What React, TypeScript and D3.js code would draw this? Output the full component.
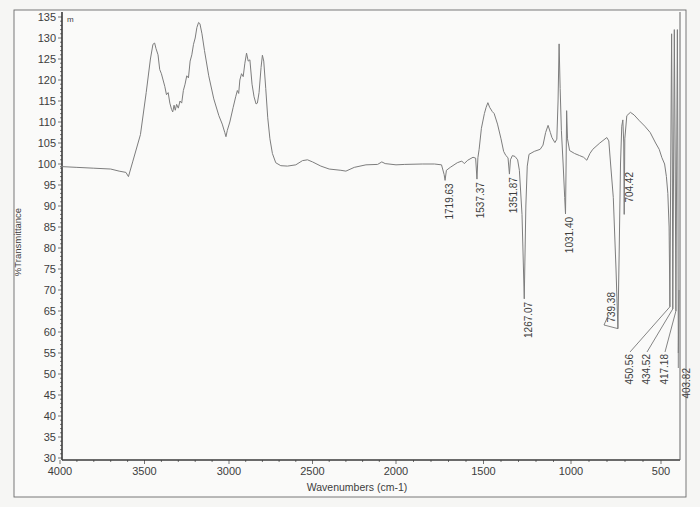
import React from "react";
import * as d3 from "d3";

const wavenumbers = [
  4000, 3900, 3800, 3700, 3650, 3610, 3595, 3570, 3524, 3490, 3465, 3450, 3440, 3432, 3420, 3410, 3400, 3390, 3380, 3370,
  3360, 3350, 3340, 3333, 3325, 3318, 3310, 3300, 3290, 3280, 3270, 3260, 3250, 3240, 3230, 3220, 3210, 3200, 3190, 3180,
  3172, 3160, 3145, 3120, 3090, 3060, 3040, 3025, 3018, 3010, 2995, 2975, 2960, 2950, 2942, 2935, 2925, 2915, 2905, 2895,
  2885, 2875, 2862, 2850, 2838, 2830, 2820, 2808, 2800, 2792, 2780, 2768, 2755, 2740, 2720, 2690, 2650, 2600, 2560, 2530,
  2500, 2450, 2400, 2330, 2300, 2250, 2180, 2110, 2085, 2065, 2000, 1950, 1850, 1780, 1740, 1725, 1719.63, 1712, 1690, 1650,
  1624, 1610, 1590, 1560, 1545, 1537.37, 1532, 1525, 1512, 1495, 1485, 1475, 1465, 1450, 1439, 1420, 1400, 1385, 1372, 1360,
  1351.87, 1346, 1335, 1320, 1305, 1295, 1280, 1267.07, 1258, 1250, 1240, 1210, 1176, 1160, 1145, 1131, 1118, 1109, 1092, 1081,
  1074, 1068, 1062, 1055, 1045, 1036, 1031.4, 1028, 1025, 1020, 1008, 980, 952, 930, 912, 895, 879, 840, 801, 790,
  780, 765, 750, 739.38, 732, 725, 718, 712, 707, 704.42, 701, 690, 670, 650, 620, 590, 560, 530, 510, 495,
  480, 470, 462, 455, 450.56, 446, 441, 437, 434.52, 430, 426, 421, 417.18, 413, 409, 406, 403.82, 400,
];

const transmittance = [
  99.4, 99.2, 99.0, 98.8, 98.3, 98.0, 97.0, 100.5, 107, 117, 125, 128.5, 128.8, 127.5, 126, 122.5, 121.5, 120, 118.5, 116.5,
  117, 114.5, 113, 112.4, 114, 112.8, 114.2, 113.3, 115, 114.5, 117.5, 119, 121, 120.5, 124.5, 126, 128.5, 130, 132.5, 133.7,
  133.4, 131, 127, 121, 115.5, 111.5, 109.5, 107.5, 106.5, 108, 110, 113.5, 116, 117.5, 116.8, 120, 121.5, 120.8, 124, 126.4,
  124.5, 124.8, 119, 116, 114.3, 114.5, 117, 123, 125.9, 124.5, 118, 111, 106, 102.5, 100.3, 99.6, 99.5, 99.8, 100.8, 101,
  100.5, 99.5, 98.8, 98.5, 98.3, 99.2, 99.8, 99.9, 100.5, 100.1, 99.8, 99.9, 100.0, 100, 99.8, 97.5, 96.1, 98.5, 99.2, 100.3,
  100.7, 100.1, 100.9, 101.6, 101.4, 96.4, 101.5, 103.5, 108.5, 112, 113.5, 114.6, 113.5, 112.5, 112, 109.5, 106, 103, 102, 101.5,
  97.6, 101, 102, 101.8, 101, 98.5, 88, 67.9, 90, 99.5, 102.3, 103, 103.5, 104.5, 107.5, 109.2, 107.5, 106.3, 105.1, 105.9,
  115, 128.6, 118, 108, 100, 92, 88.1, 100, 112.7, 106, 103.2, 102.5, 102, 101.6, 100.9, 102.5, 103.5, 105, 106.3, 105.5,
  100, 92, 75, 60.8, 80, 100, 109, 110.5, 105, 88, 106, 111.5, 112.3, 111.7, 110.3, 109, 107.5, 105, 103.5, 101.5,
  100, 97, 93, 85, 66, 100, 131, 100, 65.5, 100, 132, 100, 65, 100, 132, 100, 55, 70,
];

const xTickValues = [4000, 3500, 3000, 2500, 2000, 1500, 1000, 500];
const yTickValues = [30, 35, 40, 45, 50, 55, 60, 65, 70, 75, 80, 85, 90, 95, 100, 105, 110, 115, 120, 125, 130, 135];

const peakWavenumbers = [1719.63, 1537.37, 1351.87, 1267.07, 1031.4, 739.38, 704.42, 450.56, 434.52, 417.18, 403.82];
const peakLabels = ["1719.63", "1537.37", "1351.87", "1267.07", "1031.40", "739.38", "704.42", "450.56", "434.52", "417.18", "403.82"];

const xAxisTitle = "Wavenumbers (cm-1)";
const yAxisTitle = "%Transmittance";

export default function App() {
  const W = 700;
  const H = 507;
  const left = 62;
  const right = 680;
  const top = 12;
  const bottom = 460;

  // photographed paper is slightly non-uniform; use anchor points along the axis
  const x = d3.scaleLinear().domain([4000, 3000, 2000, 1000, 400]).range([60, 229, 396, 571, 679]);
  const y = d3.scaleLinear().domain([30, 135]).range([458, 17]);

  const data = wavenumbers.map((w, i) => ({ w, t: transmittance[i] }));
  const line = d3
    .line<{ w: number; t: number }>()
    .x((d) => x(d.w))
    .y((d) => y(d.t));

  const font = "'Liberation Sans', Arial, sans-serif";
  const axisColor = "#3a3a3a";
  const textColor = "#3d3d3d";

  const yMinor = d3.range(30, 136, 1);
  const xMinor = d3.range(500, 4001, 100);

  const tValue = (w: number) => transmittance[wavenumbers.indexOf(w)];

  // label placement (layout only)
  const labelLayout: Record<string, { lx: number; ly: number; leader?: "diag" | "vert" | "slash" | "none" }> = {
    "739.38": { lx: 611, ly: 292, leader: "slash" },
    "704.42": { lx: 629, ly: 172, leader: "none" },
    "450.56": { lx: 629, ly: 354, leader: "diag" },
    "434.52": { lx: 646, ly: 354, leader: "diag" },
    "417.18": { lx: 664, ly: 354, leader: "diag" },
    "403.82": { lx: 686, ly: 368, leader: "vert" },
  };

  return (
    <svg width={W} height={H} style={{ display: "block", position: "absolute", left: 0, top: 0, background: "#f6f6f4" }}>
      <rect x={0} y={0} width={W} height={H} fill="#f6f6f4" />
      {/* paper frame */}
      <rect x={14} y={10} width={672} height={487} fill="#fafaf9" stroke="#6a6a6a" strokeWidth={0.9} />

      {/* axes box */}
      <line x1={left} y1={top} x2={left} y2={bottom} stroke={axisColor} strokeWidth={1.6} />
      <line x1={left} y1={bottom} x2={right} y2={bottom} stroke={axisColor} strokeWidth={1.6} />
      <line x1={right} y1={top} x2={right} y2={bottom} stroke="#666" strokeWidth={1} />

      {/* y minor ticks */}
      {yMinor.map((v) => (
        <line key={"ym" + v} x1={left - (v % 5 === 0 ? 4 : 2)} x2={left} y1={y(v)} y2={y(v)} stroke={axisColor} strokeWidth={0.7} />
      ))}
      {yTickValues.map((v) => (
        <text key={"yt" + v} x={left - 6} y={y(v)} dy="0.35em" textAnchor="end" fontFamily={font} fontSize={11} fill={textColor}>
          {v}
        </text>
      ))}

      {/* x ticks */}
      {xMinor.map((v) => (
        <line key={"xm" + v} x1={x(v)} x2={x(v)} y1={bottom} y2={bottom + (v % 500 === 0 ? 4 : 2)} stroke={axisColor} strokeWidth={0.7} />
      ))}
      {xTickValues.map((v) => (
        <text key={"xt" + v} x={x(v)} y={bottom + 15} textAnchor="middle" fontFamily={font} fontSize={11} fill={textColor}>
          {v}
        </text>
      ))}

      <text x={357} y={491} textAnchor="middle" fontFamily={font} fontSize={10.5} fill={textColor}>
        {xAxisTitle}
      </text>
      <text transform={`translate(21,242) rotate(-90)`} textAnchor="middle" fontFamily={font} fontSize={9.5} fill={textColor}>
        {yAxisTitle}
      </text>
      <text x={67} y={22} fontFamily={font} fontSize={8} fill={textColor}>
        m
      </text>

      {/* spectrum */}
      <path d={line(data) || ""} fill="none" stroke="#7d7d7d" strokeWidth={1} strokeLinejoin="round" />

      {/* peak labels */}
      {peakWavenumbers.map((w, i) => {
        const lab = peakLabels[i];
        const px = x(w);
        const py = y(tValue(w));
        const lay = labelLayout[lab];
        const lx = lay ? lay.lx : px + 4;
        const ly = lay ? lay.ly : py + 3;
        let leader: React.ReactNode = null;
        if (lay && lay.leader === "diag") {
          leader = <line x1={px} y1={py} x2={lx + 1} y2={ly - 2} stroke="#666" strokeWidth={0.8} />;
        } else if (lay && lay.leader === "vert") {
          leader = <line x1={px} y1={py} x2={px} y2={ly} stroke="#666" strokeWidth={0.8} />;
        } else if (lay && lay.leader === "slash") {
          leader = (
            <polyline points={`${px},${py} ${lx - 7},${ly + 33} ${lx - 3},${ly + 24}`} fill="none" stroke="#666" strokeWidth={0.8} />
          );
        }
        return (
          <g key={lab}>
            {leader}
            <text
              transform={`translate(${lx},${ly}) rotate(-90)`}
              dy="0.35em"
              textAnchor="end"
              fontFamily={font}
              fontSize={10}
              fill={textColor}
            >
              {lab}
            </text>
          </g>
        );
      })}
    </svg>
  );
}
